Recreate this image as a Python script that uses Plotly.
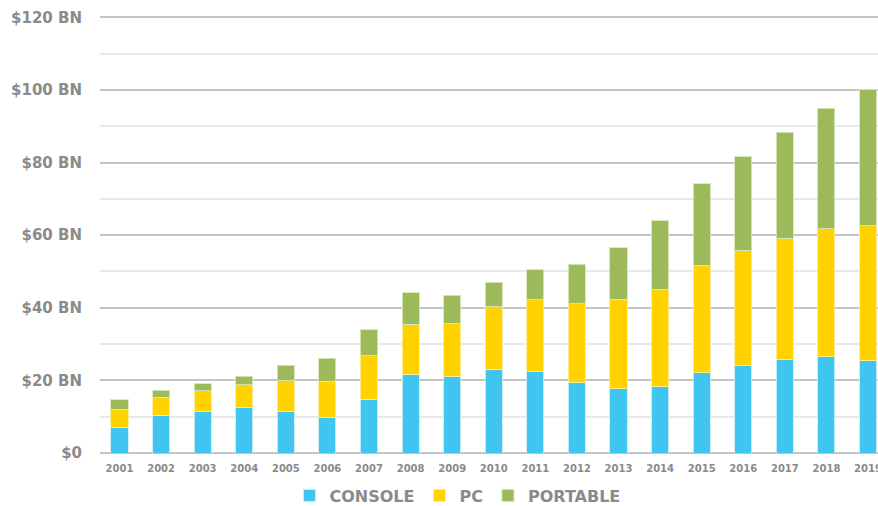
import plotly.graph_objects as go

years = [str(y) for y in range(2001, 2020)]
console = [7.1, 10.4, 11.4, 12.4, 11.4, 9.7, 14.7, 21.7, 21.1, 23.1, 22.4, 19.5, 17.7, 18.2, 22.1, 24.0, 25.7, 26.5, 25.4]
pc = [4.9, 5.0, 5.7, 6.4, 8.5, 10.1, 12.1, 13.8, 14.6, 17.2, 19.8, 21.6, 24.6, 26.9, 29.6, 31.7, 33.4, 35.2, 37.2]
portable = [2.6, 1.9, 2.0, 2.4, 4.3, 6.3, 7.2, 8.7, 7.8, 6.7, 8.3, 10.9, 14.2, 18.8, 22.4, 25.9, 29.2, 33.2, 37.6]

y_ticks = [0, 20, 40, 60, 80, 100, 120]
y_labels = ["$0", "$20 BN", "$40 BN", "$60 BN", "$80 BN", "$100 BN", "$120 BN"]

series = [
    ("CONSOLE", console, "#3FC5F0", "rgba(200,238,250,0.9)"),
    ("PC", pc, "#FFD200", "rgba(255,238,150,0.9)"),
    ("PORTABLE", portable, "#9CBA59", "rgba(215,230,185,0.9)"),
]

FONT = "DejaVu Sans"
GRAY = "#8a8a8a"

fig = go.Figure()
for name, vals, col, edge in series:
    fig.add_trace(go.Bar(
        x=years, y=vals, name=name,
        marker=dict(color=col, line=dict(color=edge, width=1)),
    ))

fig.update_layout(
    width=878, height=506,
    margin=dict(l=100, r=0, t=10, b=53),
    barmode="stack",
    bargap=0.59,
    plot_bgcolor="white",
    paper_bgcolor="white",
    showlegend=True,
    legend=dict(
        orientation="h",
        xref="container", x=457.5 / 878, xanchor="center",
        yref="container", y=1 - 495.5 / 506, yanchor="middle",
        traceorder="normal",
        font=dict(family=FONT, size=16, color=GRAY, weight="bold"),
        itemwidth=30,
    ),
    xaxis=dict(
        type="category",
        range=[-0.469, 18.24],
        automargin=False,
        showgrid=False, showline=False, zeroline=False,
        tickfont=dict(family=FONT, size=10, color=GRAY, weight="bold"),
        ticks="outside", ticklen=6, tickcolor="rgba(0,0,0,0)",
        ticklabeloverflow="allow",
    ),
    yaxis=dict(
        range=[0, 122],
        automargin=False,
        tickvals=y_ticks, ticktext=y_labels,
        showgrid=True, gridcolor="#c4c4c4", gridwidth=2,
        zeroline=True, zerolinecolor="#c4c4c4", zerolinewidth=2,
        showline=False,
        tickfont=dict(family=FONT, size=15, color=GRAY, weight="bold"),
        ticks="outside", ticklen=14, tickcolor="rgba(0,0,0,0)",
        minor=dict(tickvals=[10, 30, 50, 70, 90, 110], showgrid=True, gridcolor="#e8e8e8", gridwidth=2, ticks=""),
    ),
)

fig.write_html(
    "out.html",
    config={"displayModeBar": False},
    post_script="document.body.style.margin='0';document.body.style.overflow='hidden';",
)
